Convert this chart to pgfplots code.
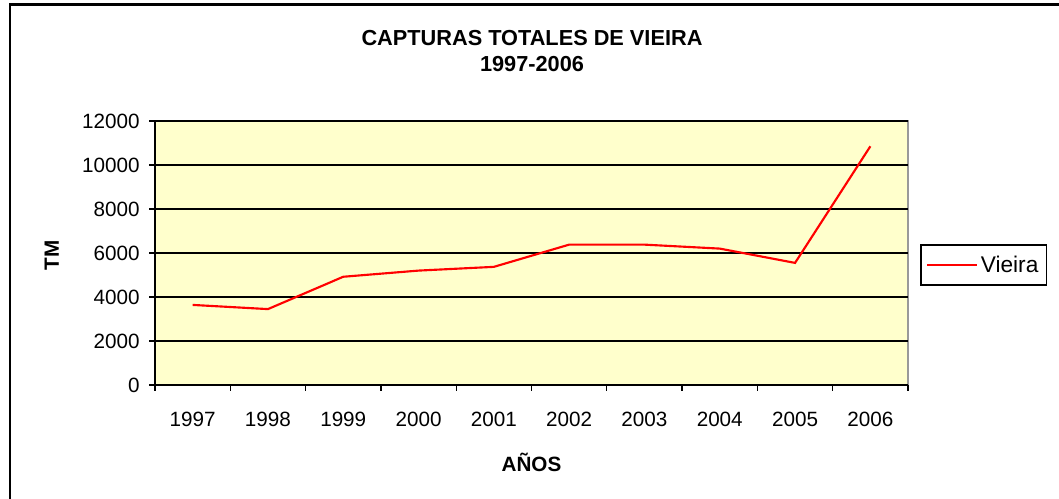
\documentclass[border=0pt]{standalone}
\usepackage{pgfplots}
\pgfplotsset{compat=1.18}
\usepackage{fontspec}
\setmainfont{Liberation Sans}
\definecolor{plotbg}{RGB}{255,255,204}
\begin{document}
\begin{tikzpicture}[x=1pt,y=1pt]
\useasboundingbox (0,0) rectangle (794.25,374.25);
\draw[line width=1.9pt,black] (7.4,-5) -- (7.4,370.8) -- (800,370.8);
\node[font=\bfseries\fontsize{16.3}{18}\selectfont] at (399,345.5) {CAPTURAS TOTALES DE VIEIRA};
\node[font=\bfseries\fontsize{16.3}{18}\selectfont] at (399,326.1) {1997-2006};
\begin{axis}[
  at={(116.25pt,85.5pt)}, anchor=south west,
  width=564.75pt, height=198pt, scale only axis,
  xmin=-0.5, xmax=9.5, ymin=0, ymax=12000,
  axis lines=left,
  axis line style={-, line width=1.4pt, black},
  axis background/.style={fill=plotbg, draw=gray!80, line width=1.4pt},
  xtick={-0.5,0.5,...,9.5},
  x tick label as interval,
  xticklabels={1997,1998,1999,2000,2001,2002,2003,2004,2005,2006},
  ytick={0,2000,...,12000},
  scaled ticks=false,
  /pgf/number format/.cd, 1000 sep={}, assume math mode=true, /pgfplots/.cd,
  tick align=outside,
  major tick length=4.5pt,
  tick style={black, line width=1pt},
  ymajorgrids,
  grid style={black, line width=1pt},
  tick label style={font=\fontsize{15.5}{18}\selectfont},
  xticklabel style={yshift=-12pt},
  yticklabel style={xshift=-3.5pt},
  ylabel={\textbf{TM}},
  ylabel style={font=\bfseries\fontsize{15.5}{18}\selectfont, at={(axis description cs:-0.137,0.49)}, anchor=center},
  xlabel={\textbf{AÑOS}},
  xlabel style={font=\bfseries\fontsize{15.5}{18}\selectfont, at={(axis description cs:0.5,-0.292)}, anchor=center},
  legend style={at={(axis description cs:1.016,0.455)}, anchor=west, draw=black, line width=1.2pt,
    font=\fontsize{17}{20}\selectfont, inner xsep=4pt, inner ysep=6pt},
  legend cell align=left,
  legend image code/.code={\draw[red, line width=1.5pt] (0pt,0pt) -- (37.5pt,0pt);},
]
\addplot[red, line width=1.6pt, mark=none] coordinates {
(0,3640) (1,3450) (2,4920) (3,5200) (4,5370) (5,6380) (6,6380) (7,6200) (8,5550) (9,10850)
};
\addlegendentry{Vieira}
\end{axis}
\end{tikzpicture}
\end{document}
